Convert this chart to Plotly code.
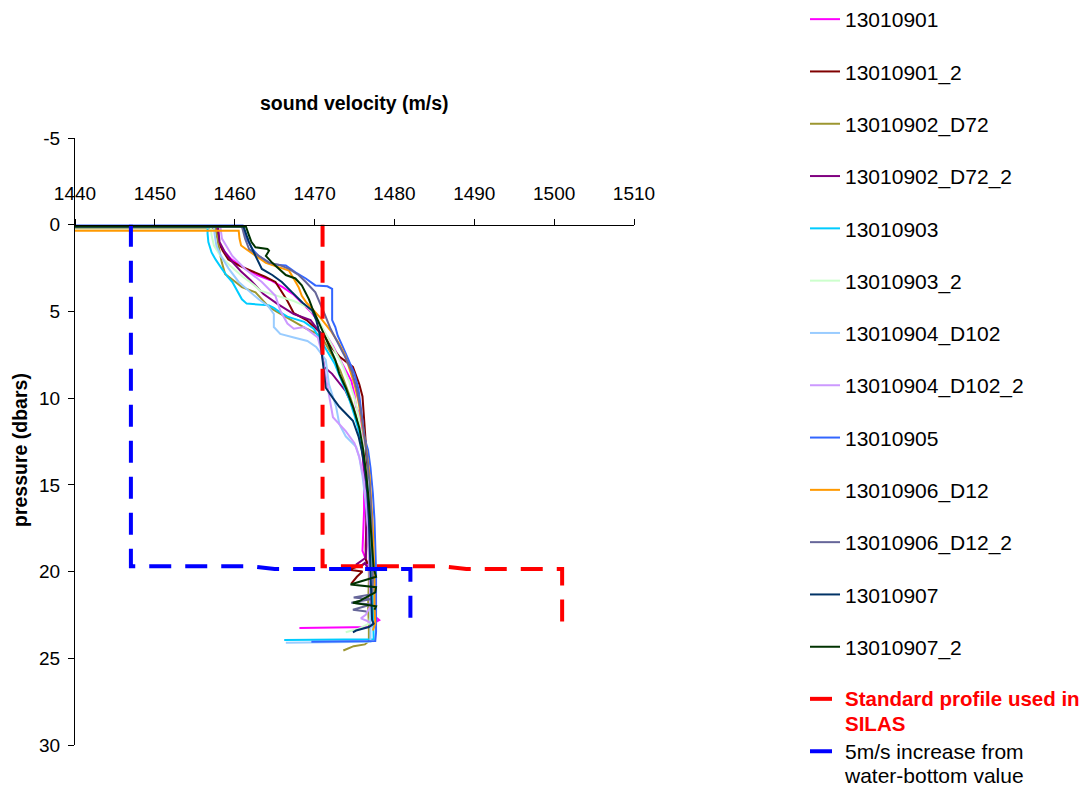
import plotly.graph_objects as go

# ---- data (pressure in dbars, sound velocity in m/s) ----
p_13010901 = [0.1, 0.1, 0.5, 1.0, 1.5, 2.0, 2.5, 2.9, 3.2, 3.6, 4.0, 4.3, 4.6, 5.0, 5.4, 5.9, 6.4, 7.0, 7.6, 8.3, 9.0, 9.8, 10.5, 10.9, 11.5, 12.5, 13.5, 15.0, 16.5, 18.0, 18.8, 19.5, 20.5, 21.5, 22.3, 22.6, 22.8, 23.0, 23.2, 23.25]
v_13010901 = [1440, 1457.8, 1457.8, 1458.0, 1458.6, 1459.6, 1461.2, 1462.8, 1464.5, 1466.0, 1467.3, 1468.0, 1468.7, 1469.5, 1470.2, 1470.8, 1471.5, 1472.3, 1473.0, 1473.8, 1474.6, 1475.0, 1475.2, 1475.6, 1475.8, 1476.0, 1476.1, 1476.2, 1476.2, 1476.1, 1476.0, 1476.6, 1477.0, 1477.2, 1477.3, 1477.6, 1478.1, 1477.3, 1477.0, 1468.1]

p_13010901_2 = [0.15, 0.15, 0.6, 1.0, 1.5, 2.0, 2.35, 2.6, 2.75, 3.0, 3.3, 3.7, 4.1, 4.4, 4.8, 5.1, 5.5, 6.0, 6.3, 6.5, 7.0, 7.6, 8.2, 8.7, 9.2, 9.9, 11.1, 12.5, 14.0, 15.5, 17.0, 18.5, 19.3, 19.5, 19.7, 19.8, 19.9, 20.0, 20.3, 20.7]
v_13010901_2 = [1440, 1457.7, 1457.8, 1458.0, 1458.5, 1459.2, 1460.5, 1461.8, 1462.6, 1463.8, 1465.1, 1465.6, 1466.2, 1466.6, 1467.0, 1467.4, 1469.0, 1470.2, 1470.8, 1471.4, 1472.0, 1473.1, 1474.8, 1475.2, 1475.6, 1476.0, 1476.2, 1476.4, 1476.5, 1476.5, 1476.5, 1476.4, 1476.4, 1476.6, 1475.5, 1475.0, 1474.3, 1476.0, 1475.3, 1474.6]

p_13010902_D72 = [0.2, 0.2, 0.7, 1.3, 1.8, 2.2, 2.85, 3.3, 3.6, 3.9, 4.3, 4.75, 5.0, 5.3, 5.6, 6.0, 6.4, 7.0, 7.6, 8.4, 9.2, 10.0, 11.0, 12.0, 13.5, 15.0, 16.5, 18.0, 19.5, 20.5, 22.0, 23.0, 24.0, 24.2, 24.3, 24.4, 24.55]
v_13010902_D72 = [1440, 1457.6, 1457.8, 1458.0, 1458.2, 1458.4, 1458.8, 1460.1, 1460.9, 1462.6, 1463.4, 1464.3, 1465.2, 1466.3, 1467.4, 1469.0, 1470.8, 1471.6, 1472.3, 1473.2, 1473.9, 1474.5, 1475.2, 1475.7, 1476.2, 1476.5, 1476.7, 1476.8, 1476.8, 1476.8, 1476.7, 1476.8, 1476.8, 1476.3, 1474.9, 1474.3, 1473.6]

p_13010902_D72_2 = [0.1, 0.1, 0.5, 1.0, 1.6, 2.2, 2.7, 3.2, 3.6, 4.0, 4.55, 5.15, 5.5, 5.9, 6.3, 7.0, 7.6, 8.2, 8.6, 9.6, 10.5, 11.5, 12.5, 14.0, 15.5, 17.0, 18.5, 19.2, 19.45, 19.6, 19.7, 19.5, 19.75]
v_13010902_D72_2 = [1440, 1457.9, 1458.0, 1458.1, 1458.8, 1459.8, 1460.8, 1462.0, 1462.8, 1463.6, 1465.3, 1467.4, 1469.5, 1470.2, 1470.8, 1471.0, 1471.0, 1471.2, 1472.2, 1473.9, 1474.8, 1475.4, 1475.8, 1476.2, 1476.4, 1476.5, 1476.5, 1476.4, 1475.6, 1475.2, 1475.8, 1476.3, 1476.6]

p_13010903 = [0.1, 0.1, 0.5, 1.0, 1.6, 2.0, 2.55, 3.0, 3.3, 3.8, 4.3, 4.55, 4.65, 4.8, 5.0, 5.3, 5.6, 6.0, 6.7, 7.25, 8.0, 9.0, 10.0, 11.0, 12.0, 13.5, 15.0, 16.5, 18.0, 19.5, 21.0, 22.5, 23.9, 23.95]
v_13010903 = [1440, 1456.6, 1456.6, 1456.7, 1457.1, 1457.6, 1458.4, 1459.1, 1459.7, 1460.3, 1460.9, 1461.5, 1464.3, 1464.9, 1465.5, 1466.6, 1468.7, 1469.9, 1470.8, 1471.6, 1472.5, 1473.4, 1474.3, 1475.0, 1475.6, 1476.2, 1476.6, 1476.9, 1477.1, 1477.2, 1477.3, 1477.4, 1477.4, 1466.2]

p_13010903_2 = [0.15, 0.15, 0.6, 1.2, 1.8, 2.4, 3.0, 3.4, 3.8, 4.1, 4.4, 4.75, 5.15, 5.6, 6.2, 7.0, 8.0, 9.0, 10.0, 11.0, 12.5, 14.0, 15.5, 17.0, 18.5, 19.5, 21.0, 22.5, 23.0, 23.3, 23.5]
v_13010903_2 = [1440, 1457.0, 1457.1, 1457.4, 1458.2, 1459.5, 1461.0, 1462.2, 1463.2, 1465.3, 1467.4, 1469.1, 1469.9, 1470.6, 1471.3, 1472.3, 1473.4, 1474.3, 1475.0, 1475.5, 1476.0, 1476.4, 1476.6, 1476.8, 1476.9, 1477.0, 1477.0, 1477.0, 1476.8, 1475.5, 1473.9]

p_13010904_D102 = [0.15, 0.15, 0.6, 1.2, 1.8, 2.5, 3.3, 3.8, 4.3, 4.7, 5.15, 5.9, 6.3, 6.5, 6.7, 7.05, 7.8, 9.2, 10.5, 11.5, 12.2, 12.8, 13.4, 14.5, 16.0, 17.5, 19.0, 20.5, 22.0, 23.5, 24.05, 24.1]
v_13010904_D102 = [1440, 1457.4, 1457.5, 1457.7, 1458.3, 1459.2, 1460.5, 1461.8, 1463.0, 1464.2, 1464.9, 1464.9, 1465.7, 1467.4, 1469.1, 1470.2, 1471.4, 1471.8, 1472.7, 1473.1, 1473.9, 1475.2, 1475.6, 1476.0, 1476.4, 1476.7, 1476.9, 1477.0, 1477.0, 1477.0, 1477.0, 1466.4]

p_13010904_D102_2 = [0.1, 0.1, 0.8, 1.3, 1.8, 2.55, 3.3, 4.1, 4.95, 5.7, 6.0, 5.9, 6.2, 6.5, 7.2, 8.0, 9.0, 10.0, 11.1, 11.9, 12.6, 13.4, 14.5, 16.0, 17.5, 19.0, 20.5, 22.0, 22.5, 22.7, 22.85, 22.95]
v_13010904_D102_2 = [1440, 1458.2, 1458.4, 1459.0, 1459.7, 1461.3, 1463.4, 1465.1, 1465.7, 1466.6, 1467.4, 1468.7, 1469.6, 1470.4, 1470.8, 1471.1, 1471.5, 1471.9, 1472.3, 1473.9, 1475.0, 1475.6, 1476.1, 1476.5, 1476.7, 1476.8, 1476.9, 1477.0, 1476.4, 1475.8, 1476.6, 1476.9]

p_13010905 = [0.05, 0.05, 0.4, 0.8, 1.4, 1.8, 2.3, 2.35, 2.75, 3.1, 3.5, 3.55, 3.7, 4.4, 5.5, 5.9, 6.4, 7.0, 7.8, 8.6, 9.5, 10.5, 11.3, 12.2, 13.0, 14.0, 15.5, 17.0, 18.5, 20.0, 22.0, 23.5, 24.0, 24.05]
v_13010905 = [1440, 1461.0, 1461.2, 1461.5, 1462.2, 1463.0, 1464.7, 1466.4, 1467.6, 1468.9, 1470.1, 1471.6, 1472.2, 1472.2, 1472.2, 1472.6, 1472.9, 1473.5, 1474.3, 1475.0, 1475.5, 1475.8, 1476.0, 1476.2, 1476.7, 1477.0, 1477.3, 1477.5, 1477.6, 1477.7, 1477.7, 1477.7, 1477.6, 1469.6]

p_13010906_D12 = [0.35, 0.35, 0.8, 1.2, 1.4, 1.8, 2.2, 2.4, 2.65, 3.2, 3.6, 4.1, 4.5, 4.8, 5.4, 6.1, 6.8, 7.5, 8.3, 9.2, 10.2, 11.5, 13.0, 14.5, 16.0, 17.5, 19.0, 20.5, 22.0, 23.0, 23.4]
v_13010906_D12 = [1440, 1460.5, 1460.6, 1460.8, 1461.4, 1462.6, 1463.9, 1465.2, 1466.8, 1467.5, 1468.0, 1468.4, 1469.0, 1469.6, 1470.8, 1472.0, 1473.0, 1473.8, 1474.4, 1475.0, 1475.5, 1476.0, 1476.5, 1476.9, 1477.1, 1477.3, 1477.4, 1477.5, 1477.5, 1477.6, 1477.3]

p_13010906_D12_2 = [0.1, 0.1, 0.8, 1.4, 1.8, 2.2, 2.3, 2.55, 2.9, 3.3, 3.9, 4.5, 5.2, 6.0, 6.8, 7.6, 8.5, 9.5, 10.5, 12.0, 13.5, 15.0, 16.5, 18.0, 19.5, 20.5, 21.3, 21.5, 21.6, 21.8, 21.9, 22.2, 22.3]
v_13010906_D12_2 = [1440, 1460.9, 1461.3, 1461.8, 1463.0, 1464.3, 1465.5, 1466.8, 1468.0, 1468.9, 1470.1, 1470.7, 1471.3, 1472.0, 1472.9, 1473.8, 1474.7, 1475.3, 1475.7, 1476.2, 1476.6, 1476.9, 1477.1, 1477.2, 1477.3, 1477.3, 1477.2, 1474.9, 1477.0, 1474.6, 1477.1, 1474.8, 1476.5]

p_13010907 = [0.1, 0.1, 0.63, 1.0, 1.8, 2.55, 2.9, 3.3, 3.9, 4.5, 4.95, 5.5, 6.2, 7.0, 8.0, 8.8, 9.4, 10.0, 10.5, 11.3, 12.2, 13.0, 14.0, 15.5, 17.0, 18.5, 20.0, 21.5, 22.8, 23.0, 23.2, 23.4, 23.5]
v_13010907 = [1440, 1461.1, 1461.5, 1461.8, 1462.6, 1463.4, 1464.7, 1465.9, 1467.2, 1468.5, 1469.7, 1470.2, 1470.6, 1470.8, 1471.0, 1471.2, 1471.4, 1472.3, 1473.1, 1474.8, 1475.5, 1475.9, 1476.3, 1476.6, 1476.8, 1476.9, 1477.0, 1477.1, 1477.2, 1477.4, 1476.8, 1475.2, 1474.8]

p_13010907_2 = [0.1, 0.1, 0.63, 1.0, 1.3, 1.4, 1.5, 1.8, 2.2, 2.9, 3.1, 3.5, 4.3, 4.8, 5.5, 6.3, 7.0, 7.8, 8.6, 9.4, 10.5, 11.7, 13.0, 14.5, 16.0, 17.5, 19.0, 19.8, 20.3, 20.5, 20.7, 20.75, 20.9, 21.2, 21.7, 21.8, 22.0, 22.2]
v_13010907_2 = [1440, 1461.4, 1461.8, 1462.1, 1462.6, 1464.1, 1464.3, 1463.9, 1464.7, 1466.4, 1467.6, 1468.4, 1469.3, 1469.7, 1470.4, 1471.2, 1471.9, 1472.6, 1473.1, 1473.9, 1474.8, 1475.6, 1476.1, 1476.5, 1476.8, 1477.0, 1477.2, 1477.4, 1477.7, 1476.4, 1475.0, 1474.5, 1477.7, 1477.6, 1475.6, 1474.8, 1477.7, 1477.5]

p_standard = [0, 19.7, 19.7, 19.85, 19.85, 22.9]
v_standard = [1471, 1471, 1486, 1489, 1501, 1501]

p_increase = [0, 19.7, 19.7, 19.85, 19.85, 22.8]
v_increase = [1447, 1447, 1462, 1465, 1482, 1482]

x_ticks = [1440, 1450, 1460, 1470, 1480, 1490, 1500, 1510]
y_ticks = [-5, 0, 5, 10, 15, 20, 25, 30]
y_ticktext = ["-5", "0", "5", "10", "15", "20", "25", "30"]

profile_names = ["13010901", "13010901_2", "13010902_D72", "13010902_D72_2", "13010903",
                 "13010903_2", "13010904_D102", "13010904_D102_2", "13010905", "13010906_D12",
                 "13010906_D12_2", "13010907", "13010907_2"]
profile_colors = ["#FF00FF", "#800000", "#9C9630", "#800080", "#00CCFF",
                  "#CCFFCC", "#99CCFF", "#CC99FF", "#3366FF", "#FF9900",
                  "#666699", "#003366", "#003300"]
profile_p = [p_13010901, p_13010901_2, p_13010902_D72, p_13010902_D72_2, p_13010903,
             p_13010903_2, p_13010904_D102, p_13010904_D102_2, p_13010905, p_13010906_D12,
             p_13010906_D12_2, p_13010907, p_13010907_2]
profile_v = [v_13010901, v_13010901_2, v_13010902_D72, v_13010902_D72_2, v_13010903,
             v_13010903_2, v_13010904_D102, v_13010904_D102_2, v_13010905, v_13010906_D12,
             v_13010906_D12_2, v_13010907, v_13010907_2]

FONT = "Liberation Sans, Arial, sans-serif"

fig = go.Figure()
for i, (name, col, pp, vv) in enumerate(zip(profile_names, profile_colors, profile_p, profile_v)):
    fig.add_trace(go.Scatter(x=vv, y=pp, mode="lines", name=name, legendgroup=f"g{i}",
                             line=dict(color=col, width=2)))

red_style = "color:#FF0000;font-size:20.5px"
blk_style = "font-size:21px"
fig.add_trace(go.Scatter(x=v_standard, y=p_standard, mode="lines",
                         name=(f"<b><span style='{red_style}'>Standard profile used in</span></b><br>"
                               f"<b><span style='{red_style}'>SILAS</span></b>"),
                         legend="legend2", line=dict(color="#FF0000", width=4, dash="22px,14px")))
fig.add_trace(go.Scatter(x=v_increase, y=p_increase, mode="lines",
                         name=(f"<span style='{blk_style}'>5m/s increase from</span><br>"
                               f"<span style='{blk_style}'>water-bottom value</span>"),
                         legend="legend2", line=dict(color="#0000FF", width=4, dash="22px,14px")))

W, H = 1079, 787
L, R, T, B = 75, 445, 138, 42
ph = H - T - B
pw = W - L - R

fig.update_layout(
    width=W, height=H,
    margin=dict(l=L, r=R, t=T, b=B, autoexpand=False),
    paper_bgcolor="white", plot_bgcolor="white",
    font=dict(family=FONT, size=19, color="black"),
    showlegend=True,
    legend=dict(x=(805 - L) / pw, xanchor="left", y=1 + (T + 1) / ph, yanchor="top",
                font=dict(family=FONT, size=21, color="black"),
                tracegroupgap=22, bgcolor="rgba(0,0,0,0)", borderwidth=0,
                valign="top", maxheight=H + 20),
    legend2=dict(x=(805 - L) / pw, xanchor="left", y=(H - B - 680) / ph, yanchor="top",
                 font=dict(family=FONT, size=19, color="black"),
                 tracegroupgap=0, bgcolor="rgba(0,0,0,0)", borderwidth=0,
                 valign="top", maxheight=200),
    xaxis=dict(range=[1440, 1510], tickvals=x_ticks, side="top", anchor="free",
               position=30 / 35, showline=True, linecolor="black", linewidth=1,
               ticks="outside", ticklen=6, tickcolor="black", showgrid=False,
               zeroline=False, ticklabelstandoff=11, automargin=False,
               tickfont=dict(family=FONT, size=19, color="black")),
    yaxis=dict(range=[30, -5], tickvals=y_ticks, ticktext=y_ticktext, showline=True,
               linecolor="black", linewidth=1, ticks="outside", ticklen=6, tickcolor="black",
               showgrid=False, zeroline=False, ticklabelstandoff=4, automargin=False,
               tickfont=dict(family=FONT, size=19, color="black")),
    annotations=[
        dict(text="<b>sound velocity (m/s)</b>", xref="paper", yref="paper",
             x=(354 - L) / pw, y=1 + (T - 103) / ph, showarrow=False,
             font=dict(family=FONT, size=19.5, color="black"), xanchor="center", yanchor="middle"),
        dict(text="<b>pressure (dbars)</b>", xref="paper", yref="paper",
             x=(20 - L) / pw, y=(H - B - 450) / ph, showarrow=False, textangle=-90,
             font=dict(family=FONT, size=19.5, color="black"), xanchor="center", yanchor="middle"),
    ],
)

fig.write_html("out.html", config={"displayModeBar": False},
               post_script="document.body.style.margin='0px';document.body.style.overflow='hidden';")
